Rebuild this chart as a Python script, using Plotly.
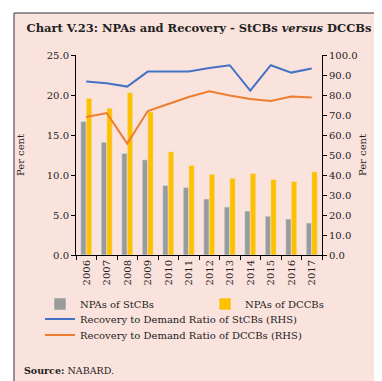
import plotly.graph_objects as go

years = ["2006", "2007", "2008", "2009", "2010", "2011", "2012", "2013", "2014", "2015", "2016", "2017"]
npa_stcb = [16.7, 14.1, 12.7, 11.9, 8.7, 8.45, 7.0, 6.0, 5.5, 4.85, 4.5, 4.0]
npa_dccb = [19.6, 18.35, 20.3, 17.9, 12.9, 11.2, 10.1, 9.6, 10.2, 9.45, 9.2, 10.4]
rec_stcb = [86.7, 85.9, 84.2, 91.7, 91.7, 91.7, 93.5, 94.9, 82.2, 94.9, 91.2, 93.2]
rec_dccb = [69.0, 71.0, 55.7, 72.0, 75.5, 79.0, 81.9, 79.7, 78.0, 77.0, 79.3, 78.8]
left_ticks = [0, 5, 10, 15, 20, 25]
right_ticks = [0, 10, 20, 30, 40, 50, 60, 70, 80, 90, 100]

FONT = "DejaVu Serif"
BG = "#FAE3DC"

W, H = 382, 381
L, R, T, B = 68, 68, 47, 134
pw, ph = W - L - R, H - T - B


def px(x):
    return (x - L) / pw


def py(y):
    return (H - B - y) / ph


fig = go.Figure()
fig.add_trace(go.Bar(x=years, y=npa_stcb, name="NPAs of StCBs", marker_color="#9A9C9B",
                     legend="legend"))
fig.add_trace(go.Bar(x=years, y=npa_dccb, name="NPAs of DCCBs", marker_color="#FFC000",
                     legend="legend2"))
fig.add_trace(go.Scatter(x=years, y=rec_stcb, name="Recovery to Demand Ratio of StCBs (RHS)",
                         mode="lines", line=dict(color="#4472C4", width=2), yaxis="y2",
                         legend="legend3"))
fig.add_trace(go.Scatter(x=years, y=rec_dccb, name="Recovery to Demand Ratio of DCCBs (RHS)",
                         mode="lines", line=dict(color="#ED7D31", width=2), yaxis="y2",
                         legend="legend4"))

fig.add_shape(type="rect", xref="paper", yref="paper", x0=px(6), x1=px(375), y0=py(5), y1=py(375),
              line=dict(color="#333333", width=1), fillcolor=BG, layer="below")


def leg(x, y):
    return dict(orientation="v", x=px(x), y=py(y), xanchor="left", yanchor="middle",
                bgcolor="rgba(0,0,0,0)", font=dict(size=10), itemwidth=30, tracegroupgap=0)


fig.update_layout(
    width=W, height=H,
    margin=dict(l=L, r=R, t=T, b=B),
    paper_bgcolor="white", plot_bgcolor="rgba(0,0,0,0)",
    font=dict(family=FONT, size=10, color="#222222"),
    barmode="group", bargap=0.46, bargroupgap=0,
    showlegend=True,
    xaxis=dict(type="category", tickangle=-90, showline=True, linecolor="black", linewidth=1,
               ticks="outside", tickson="boundaries", ticklen=4, tickcolor="black",
               tickfont=dict(size=10), showgrid=False),
    yaxis=dict(range=[0, 25], tickvals=left_ticks, ticktext=[f"{v:.1f}" for v in left_ticks],
               showline=True, linecolor="black", linewidth=1, ticks="outside", ticklen=4,
               tickcolor="black", showgrid=False, zeroline=False, tickfont=dict(size=10),
               title=dict(text="Per cent", font=dict(size=10), standoff=20)),
    yaxis2=dict(range=[0, 100], tickvals=right_ticks, ticktext=[f"{v:.1f}" for v in right_ticks],
                overlaying="y", side="right", showline=True, linecolor="black", linewidth=1,
                ticks="outside", ticklen=4, tickcolor="black", showgrid=False, zeroline=False,
                tickfont=dict(size=10),
                title=dict(text="Per cent", font=dict(size=10), standoff=2)),
    legend=leg(32, 296),
    legend2=leg(197, 296),
    legend3=leg(32, 311),
    legend4=leg(32, 327),
    title=dict(text="<b>Chart V.23: NPAs and Recovery - StCBs <i>versus</i> DCCBs</b>",
               x=0.5, xanchor="center", y=1 - 20 / H, yanchor="middle",
               font=dict(family=FONT, size=11.5, color="#222222")),
    annotations=[dict(text="<b>Source:</b> NABARD.", xref="paper", yref="paper",
                      x=px(14), y=py(362), xanchor="left", yanchor="middle", showarrow=False,
                      font=dict(size=9.5))],
)

fig.write_html("out.html")
